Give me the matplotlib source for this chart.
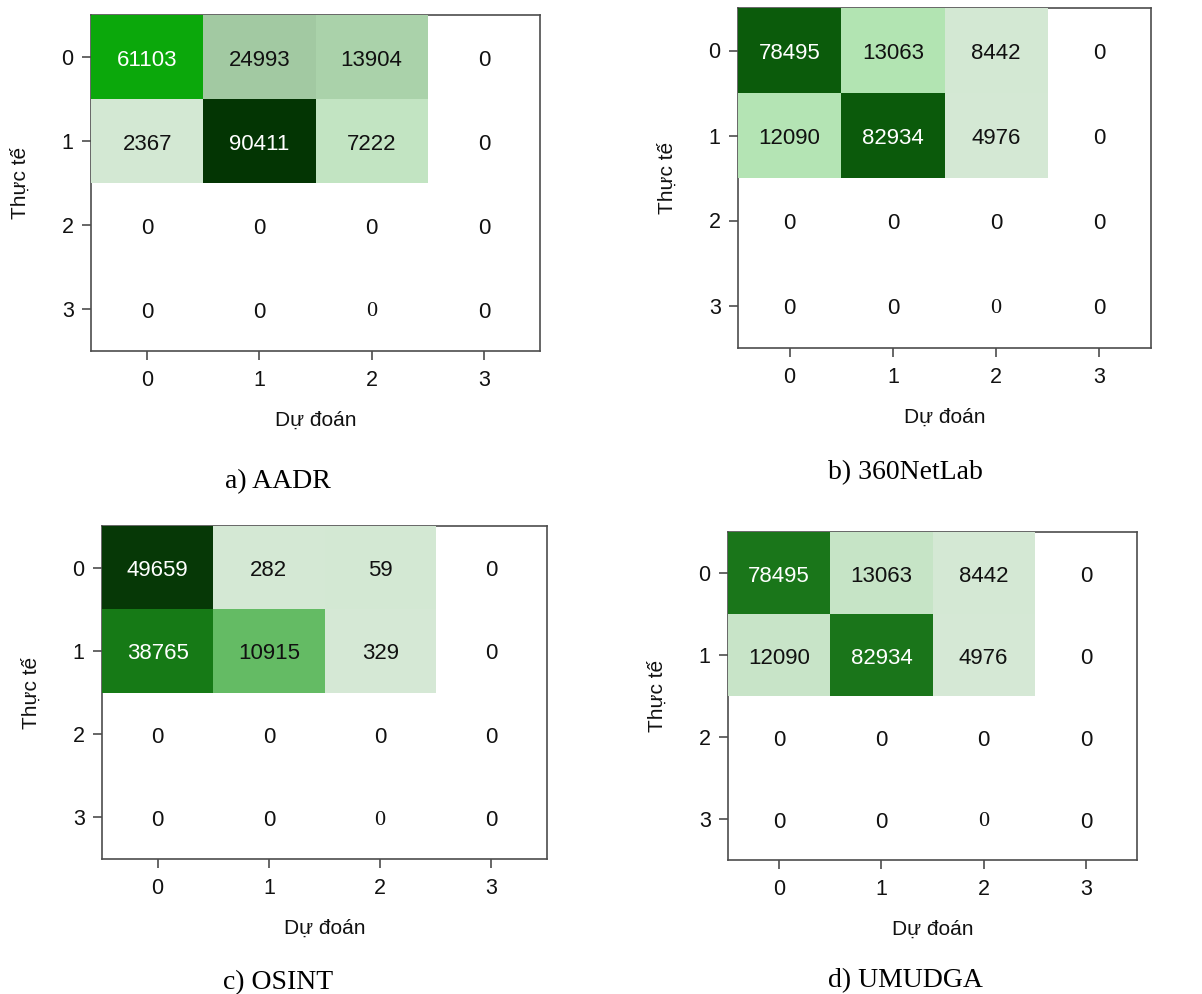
import numpy as np
import matplotlib
matplotlib.use("Agg")
import matplotlib.pyplot as plt
from matplotlib.colors import LinearSegmentedColormap, to_rgb
from matplotlib.transforms import ScaledTranslation

# ---------------- data ----------------
classes = [0, 1, 2, 3]
titles = ["a) AADR", "b) 360NetLab", "c) OSINT", "d) UMUDGA"]
x_label = "Dự đoán"
y_label = "Thực tế"

cm_aadr = [[61103, 24993, 13904, 0],
           [2367, 90411, 7222, 0],
           [0, 0, 0, 0],
           [0, 0, 0, 0]]
cm_360 = [[78495, 13063, 8442, 0],
          [12090, 82934, 4976, 0],
          [0, 0, 0, 0],
          [0, 0, 0, 0]]
cm_osint = [[49659, 282, 59, 0],
            [38765, 10915, 329, 0],
            [0, 0, 0, 0],
            [0, 0, 0, 0]]
cm_umudga = [[78495, 13063, 8442, 0],
             [12090, 82934, 4976, 0],
             [0, 0, 0, 0],
             [0, 0, 0, 0]]
matrices = [cm_aadr, cm_360, cm_osint, cm_umudga]

# ---------------- style ----------------
# shade of each coloured cell (rows 0-1, cols 0-2), row-major
cell_shades = [
    ["#0ba80b", "#a2c9a2", "#aad2aa", "#d3e8d3", "#033503", "#c2e4c2"],
    ["#0b5b0b", "#b2e4b2", "#d3e8d3", "#b4e4b4", "#0b5a0b", "#d4e8d4"],
    ["#063806", "#d4e8d4", "#d3e8d3", "#167a16", "#64bb64", "#d5e8d5"],
    ["#1a761a", "#c6e4c6", "#d4e8d4", "#c8e4c8", "#1a751a", "#d5e8d5"],
]
# axes boxes in pixels: left, top, right, bottom
boxes = [(91, 15, 540, 351), (738, 8, 1151, 348),
         (102, 526, 547, 859), (728, 532, 1137, 860)]
captions_xy = [(278, 482), (905, 473), (278, 983), (905, 981)]

W, H = 1202, 994
fig = plt.figure(figsize=(W / 100, H / 100), dpi=100)
sans = ["Liberation Sans", "DejaVu Sans"]
serif = ["Liberation Serif", "DejaVu Serif"]
spine_col = "#4d4d4d"
down = ScaledTranslation(0, -3 / 100, fig.dpi_scale_trans)

for k, (cm, shades, box) in enumerate(zip(matrices, cell_shades, boxes)):
    l, t, r, b = box
    ax = fig.add_axes([l / W, 1 - b / H, (r - l) / W, (b - t) / H])
    arr = np.array(cm, dtype=float)
    sub = arr[:2, :3]
    vals = sub.ravel()
    vmin, vmax = vals.min(), vals.max()
    order = np.argsort(vals)
    nodes = [((vals[i] - vmin) / (vmax - vmin), shades[i]) for i in order]
    pos = [n[0] for n in nodes]
    for j in range(1, len(pos)):
        if pos[j] <= pos[j - 1]:
            pos[j] = pos[j - 1] + 1e-9
    pos[0], pos[-1] = 0.0, 1.0
    cmap = LinearSegmentedColormap.from_list(
        "cm%d" % k, list(zip(pos, [n[1] for n in nodes])), N=4096)
    ax.pcolormesh(np.arange(-0.5, 3.0, 1.0), np.arange(-0.5, 2.0, 1.0), sub,
                  cmap=cmap, vmin=vmin, vmax=vmax, shading="flat", zorder=3)
    ax.set_xlim(-0.5, 3.5)
    ax.set_ylim(3.5, -0.5)
    for i in range(4):
        for j in range(4):
            v = arr[i, j]
            colour = "#111111"
            if i < 2 and j < 3:
                rgb = to_rgb(cmap((v - vmin) / (vmax - vmin)))
                lum = 0.299 * rgb[0] + 0.587 * rgb[1] + 0.114 * rgb[2]
                colour = "white" if lum < 0.5 else "#111111"
            fam = serif if (i == 3 and j == 2) else sans
            ax.text(j, i, "%d" % v, ha="center", va="center",
                    fontsize=16, color=colour, family=fam, zorder=5,
                    transform=ax.transData + down)
    ax.set_xticks(classes)
    ax.set_yticks(classes)
    ax.set_xticklabels([str(c) for c in classes], family=sans, fontsize=15.5,
                       color="#111111")
    ax.set_yticklabels([str(c) for c in classes], family=sans, fontsize=15.5,
                       color="#111111")
    ax.tick_params(length=6.5, width=1.2, color=spine_col, pad=6)
    ax.tick_params(axis="x", pad=7.5)
    for s in ax.spines.values():
        s.set_color(spine_col)
        s.set_linewidth(1.2)
        s.set_zorder(2)
    ax.set_xlabel(x_label, family=sans, fontsize=15, labelpad=14, color="#111111")
    ax.set_ylabel(y_label, family=sans, fontsize=15, labelpad=23, color="#111111")
    cx, cy = captions_xy[k]
    fig.text(cx / W, 1 - cy / H, titles[k], ha="center", va="center",
             family=serif, fontsize=20, color="black")

fig.savefig("out.png", dpi=100, facecolor="white")
